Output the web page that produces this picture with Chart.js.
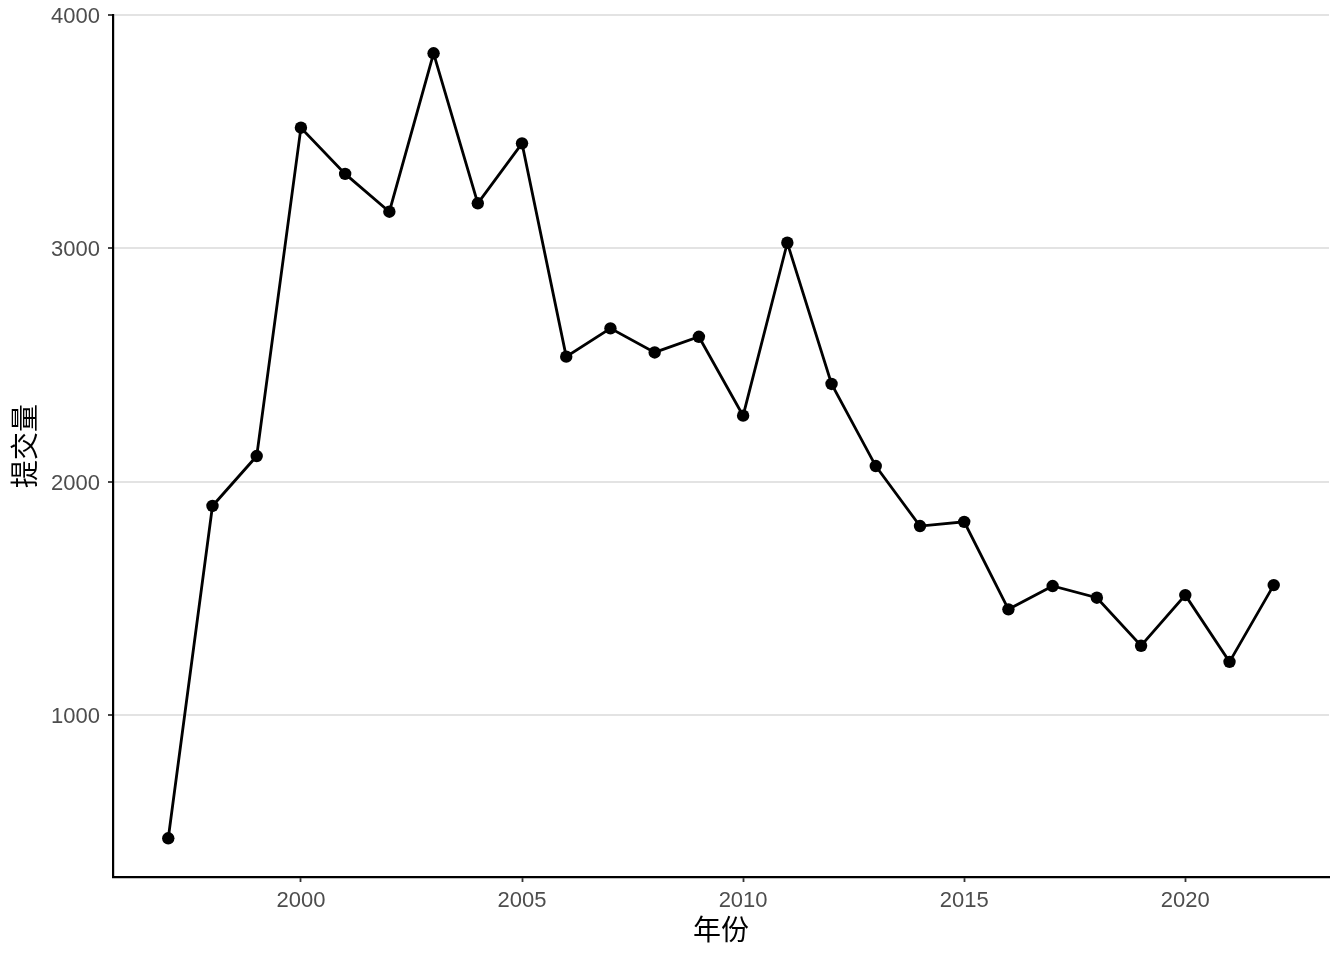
<!DOCTYPE html>
<html>
<head>
<meta charset="utf-8">
<script src="https://cdn.jsdelivr.net/npm/chart.js@4"></script>
<style>
  html, body { margin: 0; padding: 0; background: #fff; }
  #wrap { width: 1344px; height: 960px; }
</style>
</head>
<body>
<div id="wrap"><canvas id="chart" width="1344" height="960"></canvas></div>
<script>
// data
const years = [1997, 1998, 1999, 2000, 2001, 2002, 2003, 2004, 2005, 2006, 2007, 2008, 2009,
  2010, 2011, 2012, 2013, 2014, 2015, 2016, 2017, 2018, 2019, 2020, 2021, 2022];
const submissions = [472, 1896, 2110, 3517, 3319, 3157, 3836, 3193, 3450, 2536, 2657, 2554, 2621,
  2283, 3024, 2419, 2067, 1810, 1828, 1453, 1553, 1503, 1297, 1514, 1228, 1557];
const xTicks = [2000, 2005, 2010, 2015, 2020];
const yTicks = [1000, 2000, 3000, 4000];

const xTitle = "年份";
const yTitle = "提交量";

const tickFont = { family: "'Liberation Sans', Arial, sans-serif", size: 22 };
const titleFont = { family: "'Noto Sans CJK SC', sans-serif", size: 28 };

const points = years.map((y, i) => ({ x: y, y: submissions[i] }));

const ctx = document.getElementById("chart").getContext("2d");

new Chart(ctx, {
  type: "line",
  data: {
    datasets: [{
      data: points,
      borderColor: "#000",
      backgroundColor: "#000",
      borderWidth: 2.8,
      pointRadius: 6.2,
      pointBorderWidth: 0,
      pointHoverRadius: 6.2,
      tension: 0,
      fill: false
    }]
  },
  options: {
    responsive: false,
    animation: false,
    layout: { padding: { top: 15, right: 15, left: 0, bottom: 0 } },
    plugins: {
      legend: { display: false },
      tooltip: { enabled: false }
    },
    scales: {
      x: {
        type: "linear",
        min: 1995.75,
        max: 2023.25,
        afterBuildTicks: s => { s.ticks = xTicks.map(v => ({ value: v })); },
        afterFit: s => { s.height = 83; s.paddingLeft = 0; s.paddingRight = 0; },
        ticks: {
          color: "#4d4d4d",
          font: tickFont,
          padding: 6,
          maxRotation: 0,
          callback: v => String(v)
        },
        grid: {
          drawOnChartArea: false,
          tickLength: 5,
          tickColor: "#333",
          tickWidth: 1.8
        },
        border: { color: "#000", width: 2.2 },
        title: {
          display: true,
          text: xTitle,
          color: "#000",
          font: titleFont,
          padding: { top: 0, bottom: 14 }
        }
      },
      y: {
        type: "linear",
        min: 306,
        max: 4000,
        afterBuildTicks: s => { s.ticks = yTicks.map(v => ({ value: v })); },
        afterFit: s => { s.width = 113; s.paddingTop = 0; s.paddingBottom = 0; },
        ticks: {
          color: "#4d4d4d",
          font: tickFont,
          padding: 8,
          labelOffset: 2,
          callback: v => String(v)
        },
        grid: {
          color: "#e3e3e3",
          lineWidth: 2,
          tickLength: 5,
          tickColor: "#333",
          tickWidth: 1.8
        },
        border: { color: "#000", width: 2.2 },
        title: {
          display: true,
          text: yTitle,
          color: "#000",
          font: titleFont,
          padding: { top: 8, bottom: 0 }
        }
      }
    }
  }
});
</script>
</body>
</html>
